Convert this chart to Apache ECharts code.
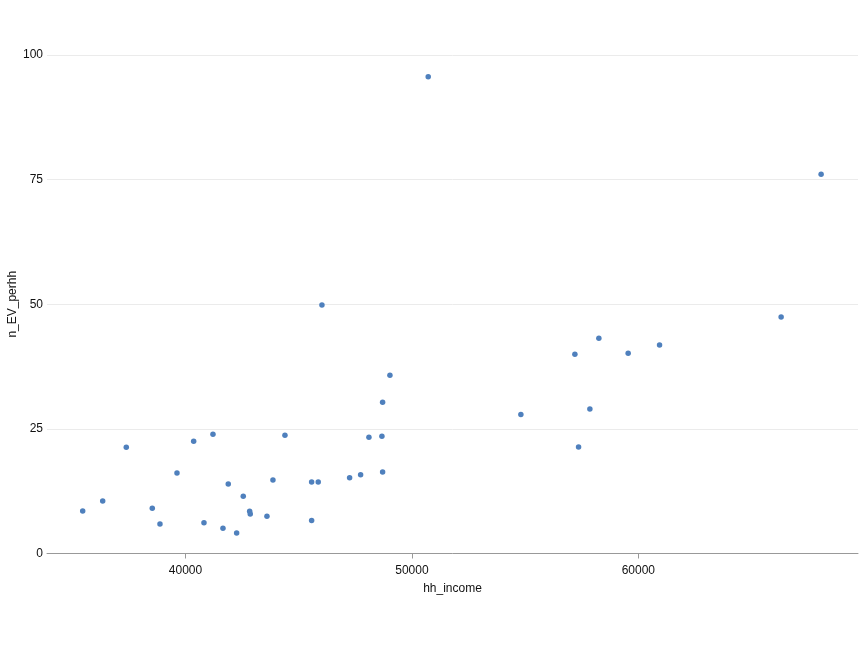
<!DOCTYPE html>
<html>
<head>
<meta charset="utf-8">
<script src="https://cdn.jsdelivr.net/npm/echarts@6/dist/echarts.min.js"></script>
<style>html,body{margin:0;padding:0;background:#fff}#c{width:864px;height:648px}</style>
</head>
<body>
<div id="c"></div>
<script>
const hhIncome = [35461,36344,37386,38534,38874,39625,40362,40817,41214,41656,41890,42260,42552,42834,42861,43598,43863,44393,45572,45572,45863,46027,47249,47735,48102,48675,48706,48706,49029,50720,54812,57197,57360,57859,58256,59550,60936,66305,68071];
const nEVperhh = [8.53,10.53,21.30,9.07,5.92,16.15,22.51,6.18,23.91,5.06,13.94,4.11,11.47,8.47,7.92,7.46,14.74,23.71,6.62,14.34,14.34,49.85,15.21,15.81,23.31,23.51,16.35,30.33,35.75,95.65,27.88,39.96,21.36,28.99,43.17,40.16,41.83,47.44,76.07];
const xTicks = [40000,50000,60000];
const yTicks = [0,25,50,75,100];

const points = hhIncome.map((x,i)=>[x,nEVperhh[i]]);
const font = '"Liberation Sans", Arial, Helvetica, sans-serif';
const chart = echarts.init(document.getElementById('c'), null, {renderer:'canvas'});
chart.setOption({
  animation:false,
  backgroundColor:'#fff',
  grid:{left:47,right:6,top:55,bottom:94.5,containLabel:false,outerBoundsMode:'none'},
  xAxis:{
    type:'value',min:33885,max:69700,
    offset:2,
    name:'hh_income',nameLocation:'middle',nameGap:27,nameMoveOverlap:false,
    nameTextStyle:{fontFamily:font,fontSize:12,color:'#111'},
    axisLine:{show:true,lineStyle:{color:'#999',width:1}},
    axisTick:{show:true,length:5,lineStyle:{color:'#999'},customValues:xTicks},
    axisLabel:{fontFamily:font,fontSize:12,color:'#111',margin:9,customValues:xTicks,formatter:v=>String(v)},
    splitLine:{show:false}
  },
  yAxis:{
    type:'value',min:0,max:100,interval:25,
    name:'n_EV_perhh',nameLocation:'middle',nameGap:28,nameRotate:90,nameMoveOverlap:false,
    nameTextStyle:{fontFamily:font,fontSize:12,color:'#111'},
    axisLine:{show:false},axisTick:{show:false},
    axisLabel:{fontFamily:font,fontSize:12,color:'#111',margin:4,customValues:yTicks,formatter:v=>String(v)},
    splitLine:{show:true,lineStyle:{color:'#ebebeb',width:1}}
  },
  series:[{
    type:'scatter',
    data:points,
    symbolSize:5.5,
    itemStyle:{color:'#4f80bd',opacity:1},
    silent:true
  }]
});
</script>
</body>
</html>
